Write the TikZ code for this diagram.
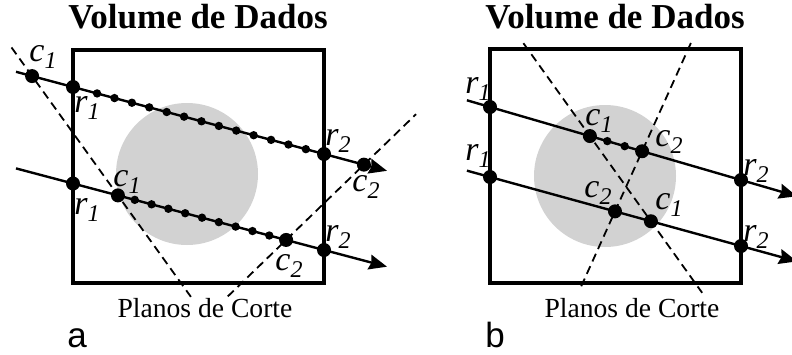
\documentclass[tikz,border=0pt]{standalone}
\usepackage{fontspec}
\setmainfont{Liberation Serif}
\setsansfont{Liberation Sans}
\usetikzlibrary{calc,arrows.meta}

\definecolor{blobgray}{RGB}{210,210,210}
\tikzset{
  bigdot/.style={circle,fill,inner sep=0pt,minimum size=7pt},
  smalldot/.style={circle,fill,inner sep=0pt,minimum size=4.2pt},
  ray/.style={line width=1.2pt,-{Stealth[length=9pt,width=7.5pt,inset=1pt]}},
  cut/.style={line width=0.9pt,dash pattern=on 4.2pt off 2.6pt},
  volume/.style={line width=1.6pt},
  blob/.style={fill=blobgray},
  lab/.style={font=\fontsize{17}{17}\selectfont,inner sep=0pt},
  title/.style={font=\fontsize{17.5}{17.5}\selectfont\bfseries,anchor=base,inner sep=0pt},
  caption/.style={font=\fontsize{13.8}{13.8}\selectfont,anchor=base,inner sep=0pt},
  panel/.style={font=\fontsize{17.5}{17.5}\selectfont\sffamily,anchor=base,inner sep=0pt}
}
\newcommand{\pl}[2]{\textit{#1}\raisebox{-0.4ex}{\fontsize{12}{12}\selectfont\textit{#2}}}

\begin{document}
\begin{tikzpicture}[x=0.5pt,y=-0.5pt]
  \useasboundingbox (0,0) rectangle (792,354);

  % Painel a
  \node[title] (atitle) at (198,28) {Volume de Dados};
  \fill[blob] (187,174) circle[radius=71];
  \draw[volume] (73,50) rectangle (324,283);

  % raios
  \coordinate (auR1) at (73,87);
  \coordinate (auR2) at (324,154);
  \coordinate (aus) at ($(auR1)!-0.227!(auR2)$);
  \coordinate (aue) at ($(auR1)!1.251!(auR2)$);
  \coordinate (alR1) at (73,183.5);
  \coordinate (alR2) at (324,250);
  \coordinate (als) at ($(alR1)!-0.227!(alR2)$);
  \coordinate (ale) at ($(alR1)!1.251!(alR2)$);
  \coordinate (auC1) at ($(auR1)!-0.163!(auR2)$);
  \coordinate (auC2) at ($(auR1)!1.159!(auR2)$);
  \coordinate (alC1) at ($(alR1)!0.179!(alR2)$);
  \coordinate (alC2) at ($(alR1)!0.849!(alR2)$);

  % planos de corte
  \coordinate (acut1a) at ($(auC1)!-0.24!(alC1)$);
  \coordinate (acut1b) at ($(auC1)!1.85!(alC1)$);
  \coordinate (acut2a) at ($(alC2)!-0.75!(auC2)$);
  \coordinate (acut2b) at ($(alC2)!1.67!(auC2)$);
  \draw[cut] (acut1a) -- (acut1b);
  \draw[cut] (acut2a) -- (acut2b);

  \draw[ray] (aus) -- (aue);
  \draw[ray] (als) -- (ale);

  \foreach \p in {auR1,auR2,auC1,auC2,alR1,alR2,alC1,alC2}
    \node[bigdot] (d\p) at (\p) {};
  \foreach \k [evaluate=\k as \f using 0.096+0.0693*\k] in {0,...,12}
    \node[smalldot] (au\k) at ($(auR1)!\f!(auR2)$) {};
  \foreach \k [evaluate=\k as \f using \k/10] in {1,...,9}
    \node[smalldot] (al\k) at ($(alC1)!\f!(alC2)$) {};

  \node[lab] (lauC1) at (43,57) {\pl{c}{1}};
  \node[lab] (lauR1) at (87,108) {\pl{r}{1}};
  \node[lab] (lalC1) at (127,182) {\pl{c}{1}};
  \node[lab] (lalR1) at (87,210) {\pl{r}{1}};
  \node[lab] (lauR2) at (338,141) {\pl{r}{2}};
  \node[lab] (lauC2) at (366,187) {\pl{c}{2}};
  \node[lab] (lalR2) at (338,237) {\pl{r}{2}};
  \node[lab] (lalC2) at (289,266) {\pl{c}{2}};

  \node[caption] (acap) at (205,317) {Planos de Corte};
  \node[panel] (apanel) at (77,347) {a};

  % Painel b
  \node[title] (btitle) at (615,28) {Volume de Dados};
  \fill[blob] (605,176) circle[radius=71];
  \draw[volume] (490,49) rectangle (741,283);

  % raios
  \coordinate (buR1) at (490,107);
  \coordinate (buR2) at (741,180);
  \coordinate (bus) at ($(buR1)!-0.092!(buR2)$);
  \coordinate (bue) at ($(buR1)!1.223!(buR2)$);
  \coordinate (blR1) at (490,177);
  \coordinate (blR2) at (741,246);
  \coordinate (bls) at ($(blR1)!-0.092!(blR2)$);
  \coordinate (ble) at ($(blR1)!1.223!(blR2)$);
  \coordinate (buC1) at ($(buR1)!0.398!(buR2)$);
  \coordinate (buC2) at ($(buR1)!0.606!(buR2)$);
  \coordinate (blC1) at ($(blR1)!0.641!(blR2)$);
  \coordinate (blC2) at ($(blR1)!0.498!(blR2)$);

  % planos de corte
  \coordinate (bcut1a) at ($(buC1)!-1.09!(blC1)$);
  \coordinate (bcut1b) at ($(buC1)!1.84!(blC1)$);
  \coordinate (bcut2a) at ($(buC2)!-1.8!(blC2)$);
  \coordinate (bcut2b) at ($(buC2)!2.3!(blC2)$);
  \draw[cut] (bcut1a) -- (bcut1b);
  \draw[cut] (bcut2a) -- (bcut2b);

  \draw[ray] (bus) -- (bue);
  \draw[ray] (bls) -- (ble);

  \foreach \p in {buR1,buR2,buC1,buC2,blR1,blR2,blC1,blC2}
    \node[bigdot] (d\p) at (\p) {};
  \foreach \k [evaluate=\k as \f using \k/3] in {1,2}
    \node[smalldot] (bu\k) at ($(buC1)!\f!(buC2)$) {};

  \node[lab] (lbuR1) at (478,89) {\pl{r}{1}};
  \node[lab] (lblR1) at (478,156) {\pl{r}{1}};
  \node[lab] (lbuC1) at (599,121) {\pl{c}{1}};
  \node[lab] (lbuC2) at (669,142) {\pl{c}{2}};
  \node[lab] (lbuR2) at (756,171) {\pl{r}{2}};
  \node[lab] (lblC2) at (598,193) {\pl{c}{2}};
  \node[lab] (lblC1) at (669,205) {\pl{c}{1}};
  \node[lab] (lblR2) at (756,237) {\pl{r}{2}};

  \node[caption] (bcap) at (632,317) {Planos de Corte};
  \node[panel] (bpanel) at (495,347) {b};
\end{tikzpicture}
\end{document}
